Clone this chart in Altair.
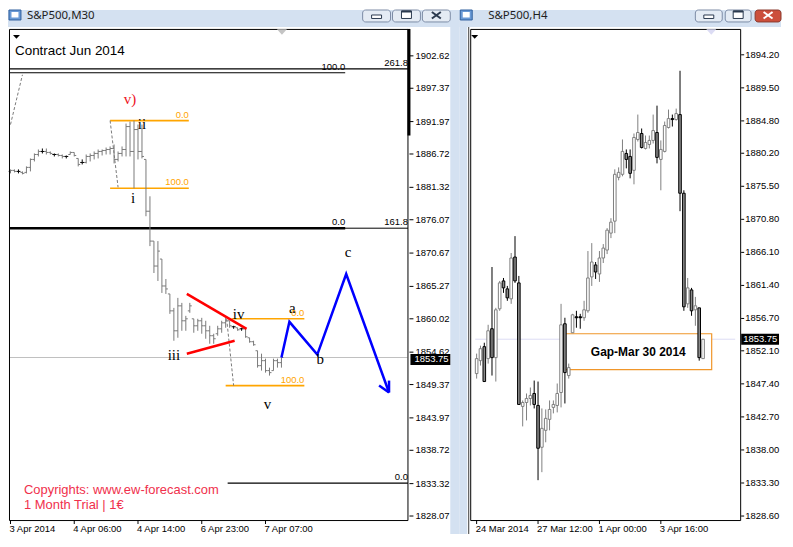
import altair as alt
import pandas as pd

# ------------------------------------------------------------------ data
# S&P500 M30 bars (left window)
m30_open = [1883.90, 1884.06, 1883.90, 1883.74, 1883.74, 1884.55, 1885.84, 1886.64, 1887.13, 1887.13,
            1886.97, 1886.64, 1886.64, 1886.48, 1886.32, 1886.64, 1886.97, 1886.00, 1885.35, 1885.35,
            1886.32, 1886.48, 1886.81, 1887.13, 1887.29, 1887.45, 1887.61, 1885.84, 1886.81, 1887.45,
            1891.16, 1887.13, 1890.68, 1887.13, 1885.84, 1877.45, 1872.61, 1868.57, 1869.70, 1865.34,
            1864.05, 1861.31, 1858.08, 1862.12, 1859.70, 1861.31, 1860.02, 1858.89, 1859.70, 1858.89,
            1858.08, 1857.28, 1857.60, 1858.40, 1859.37, 1859.70, 1858.73, 1858.57, 1858.40, 1858.40,
            1856.95, 1856.31, 1854.85, 1852.43, 1853.24, 1851.63, 1851.63, 1853.24, 1852.92]
m30_high = [1884.22, 1884.22, 1884.22, 1883.90, 1884.71, 1886.00, 1886.81, 1887.45, 1887.61, 1887.61,
            1887.13, 1886.81, 1886.81, 1886.64, 1886.48, 1887.13, 1886.97, 1886.00, 1885.84, 1886.64,
            1886.81, 1887.13, 1887.45, 1887.45, 1887.77, 1887.94, 1888.26, 1887.13, 1887.94, 1891.65,
            1891.97, 1892.13, 1891.49, 1891.49, 1885.84, 1879.87, 1872.61, 1872.61, 1869.70, 1866.47,
            1864.05, 1861.79, 1863.41, 1862.60, 1860.50, 1862.60, 1860.02, 1860.02, 1860.18, 1859.70,
            1858.89, 1857.60, 1858.89, 1859.70, 1860.18, 1859.70, 1858.89, 1858.57, 1858.57, 1858.40,
            1856.95, 1856.47, 1854.85, 1854.37, 1853.56, 1852.11, 1853.56, 1853.56, 1853.75]
m30_low = [1883.58, 1883.74, 1883.58, 1883.42, 1883.58, 1883.90, 1885.51, 1886.32, 1886.81, 1886.64,
           1886.64, 1886.32, 1886.32, 1886.00, 1886.00, 1886.64, 1886.32, 1884.71, 1885.03, 1885.19,
           1885.51, 1885.84, 1886.00, 1886.48, 1886.64, 1886.64, 1885.19, 1885.51, 1886.32, 1886.32,
           1886.32, 1881.16, 1885.84, 1886.00, 1876.64, 1871.80, 1867.44, 1866.15, 1864.21, 1864.05,
           1860.82, 1856.47, 1856.95, 1858.08, 1858.08, 1860.99, 1857.76, 1858.08, 1857.60, 1856.79,
           1855.98, 1855.98, 1857.28, 1857.76, 1858.57, 1858.57, 1858.40, 1858.08, 1858.08, 1856.95,
           1856.15, 1855.66, 1852.11, 1851.63, 1851.30, 1850.82, 1851.63, 1852.11, 1852.11]
m30_close = [1884.06, 1883.90, 1883.90, 1883.58, 1884.55, 1885.84, 1886.64, 1887.13, 1887.13, 1886.97,
             1886.81, 1886.64, 1886.48, 1886.32, 1886.32, 1886.97, 1886.48, 1885.03, 1885.35, 1886.32,
             1886.48, 1886.81, 1887.13, 1887.29, 1887.45, 1887.61, 1885.84, 1886.81, 1887.45, 1891.16,
             1887.13, 1890.68, 1887.13, 1886.32, 1877.45, 1872.61, 1868.57, 1870.99, 1865.34, 1864.86,
             1861.31, 1858.08, 1862.12, 1859.70, 1860.02, 1862.12, 1858.89, 1859.70, 1858.89, 1858.08,
             1857.28, 1856.79, 1858.40, 1859.37, 1859.70, 1858.89, 1858.73, 1858.24, 1858.40, 1857.11,
             1856.31, 1855.82, 1852.43, 1853.24, 1851.63, 1851.30, 1853.24, 1852.92, 1853.75]
m30_price_ticks = [1902.62, 1897.37, 1891.97, 1886.72, 1881.32, 1876.07, 1870.67, 1865.27,
                   1860.02, 1854.62, 1849.37, 1843.97, 1838.72, 1833.32, 1828.07]
m30_time_ticks = [0, 16, 32, 48, 64]
m30_time_labels = ["3 Apr 2014", "4 Apr 06:00", "4 Apr 14:00", "6 Apr 23:00", "7 Apr 07:00"]

# S&P500 H4 candles (right window)
h4_open = [1848.86, 1850.70, 1852.69, 1850.99, 1855.24, 1851.13, 1858.07, 1862.04, 1860.91, 1859.49,
           1865.44, 1861.76, 1844.19, 1844.75, 1845.32, 1846.03, 1844.33, 1838.38, 1840.79, 1842.35,
           1844.05, 1844.33, 1846.17, 1855.95, 1848.58, 1854.67, 1856.94, 1856.94, 1856.80, 1857.79,
           1862.61, 1864.31, 1863.03, 1865.30, 1866.43, 1868.84, 1870.54, 1876.77, 1877.20, 1880.17,
           1879.75, 1877.77, 1882.16, 1883.01, 1880.88, 1881.45, 1882.02, 1883.15, 1879.32, 1880.46,
           1883.86, 1885.13, 1884.99, 1885.70, 1874.51, 1858.78, 1860.76, 1857.93, 1858.21, 1850.99]
h4_high = [1851.70, 1852.83, 1853.25, 1855.80, 1864.02, 1858.21, 1862.04, 1862.46, 1861.33, 1866.01,
           1868.41, 1862.75, 1845.04, 1846.03, 1846.88, 1847.87, 1847.73, 1843.90, 1843.76, 1845.04,
           1845.04, 1847.45, 1858.78, 1856.80, 1850.28, 1857.36, 1857.79, 1857.36, 1859.21, 1866.29,
           1867.42, 1864.73, 1866.29, 1867.28, 1869.55, 1870.96, 1877.91, 1878.19, 1882.16, 1880.74,
           1880.74, 1883.01, 1885.70, 1883.72, 1882.72, 1882.72, 1885.70, 1886.97, 1882.02, 1884.71,
           1886.41, 1885.70, 1886.55, 1891.93, 1874.93, 1862.46, 1861.05, 1859.77, 1858.21, 1853.75]
h4_low = [1848.15, 1850.00, 1847.73, 1850.28, 1848.58, 1847.73, 1857.79, 1860.34, 1859.21, 1858.78,
          1861.76, 1844.47, 1841.35, 1842.20, 1844.33, 1843.90, 1833.70, 1834.84, 1839.09, 1840.79,
          1843.20, 1843.34, 1844.05, 1844.61, 1848.15, 1854.67, 1855.38, 1855.24, 1856.37, 1857.51,
          1861.33, 1862.32, 1861.90, 1864.59, 1865.86, 1868.13, 1868.84, 1876.35, 1876.92, 1878.05,
          1876.63, 1875.78, 1881.87, 1880.88, 1880.74, 1880.88, 1881.59, 1878.76, 1874.93, 1880.32,
          1883.72, 1884.00, 1884.85, 1871.96, 1857.79, 1858.21, 1857.08, 1855.66, 1850.70, 1850.99]
h4_close = [1850.99, 1852.40, 1847.73, 1854.95, 1851.13, 1857.93, 1861.76, 1861.05, 1859.63, 1865.30,
            1862.04, 1844.47, 1844.75, 1845.32, 1845.75, 1844.47, 1838.24, 1841.07, 1842.49, 1843.76,
            1844.47, 1846.03, 1855.80, 1849.00, 1849.71, 1857.22, 1856.80, 1856.80, 1857.93, 1862.46,
            1864.73, 1863.31, 1865.30, 1866.71, 1869.26, 1870.40, 1877.20, 1877.48, 1880.46, 1879.32,
            1877.34, 1882.44, 1883.15, 1881.02, 1881.73, 1882.02, 1883.43, 1879.61, 1880.74, 1884.14,
            1885.13, 1884.99, 1885.84, 1874.51, 1858.36, 1861.05, 1857.79, 1858.50, 1851.13, 1853.75]
h4_price_ticks = [1894.20, 1889.50, 1884.80, 1880.20, 1875.50, 1870.80, 1866.10, 1861.40,
                  1856.70, 1852.10, 1847.40, 1842.70, 1838.00, 1833.30, 1828.60]
h4_time_ticks = [0, 16, 32, 48]
h4_time_labels = ["24 Mar 2014", "27 Mar 12:00", "1 Apr 00:00", "3 Apr 16:00"]

last_price = 1853.75

# Elliott wave labels (bar index, price)
wave_text = ["v)", "ii", "i", "iii", "iv", "v", "a", "b", "c"]
wave_x = [30, 33, 30.75, 41, 57.25, 64.5, 70.75, 77.75, 84.75]
wave_y = [1895.68, 1891.65, 1879.54, 1854.21, 1860.82, 1846.14, 1861.79, 1853.56, 1870.83]

# projected a-b-c path and arrow head
proj_x = [68, 70, 77, 84.25, 95]
proj_y = [1853.75, 1859.53, 1854.21, 1867.28, 1848.08]
head_x2 = [95, 92.5]
head_y2 = [1850.01, 1849.21]

# triangle (wave iv) lines
tri_x = [44.25, 44.25]
tri_x2 = [59.25, 56.25]
tri_y = [1864.05, 1854.37]
tri_y2 = [1858.40, 1856.47]

# fibonacci levels
fib_x = [-0.25, -0.25, -0.25, -0.25, 54.5, 25, 25, 55.5, 54]
fib_x2 = [99.75, 84, 84, 99.75, 99.75, 44.75, 44.75, 73.75, 73.75]
fib_y = [1900.52, 1899.88, 1874.70, 1874.70, 1833.39, 1892.13, 1881.16, 1860.02, 1849.20]
fib_text = ["261.8", "100.0", "0.0", "161.8", "0.0", "0.0", "100.0", "0.0", "100.0"]

# zigzag (dashed)
zz_x = [0, 25, 54.25]
zz_x2 = [3, 27, 56]
zz_y = [1891.49, 1892.13, 1860.02]
zz_y2 = [1899.55, 1881.32, 1849.20]

# gap box on H4
gap_x, gap_x2 = [23], [61.25]
gap_y, gap_y2 = [1854.53], [1849.43]
gap_text = "Gap-Mar 30 2014"

# ------------------------------------------------------------------ styles / helpers
FRAME = "#d4e1f1"
FONT = "Liberation Sans"
H = 493
W1, W2 = 400, 271
ONE = pd.DataFrame({"k": [0]})

xs1 = alt.Scale(domain=[-0.375, 99.625], nice=False, zero=False)
ys1 = alt.Scale(domain=[1827.42, 1906.98], nice=False, zero=False)
xs2 = alt.Scale(domain=[-0.375, 67.375], nice=False, zero=False)
ys2 = alt.Scale(domain=[1828.03, 1897.88], nice=False, zero=False)


def prect(x, x2, y, y2, fill, stroke=None, sw=1.0, cr=0, fo=1.0):
    kw = dict(fill=fill, fillOpacity=fo, cornerRadius=cr)
    if stroke is not None:
        kw.update(stroke=stroke, strokeWidth=sw)
    else:
        kw.update(strokeWidth=0)
    return alt.Chart(ONE).mark_rect(**kw).encode(
        x=alt.value(x), x2=alt.value(x2), y=alt.value(y), y2=alt.value(y2))


def prule(x, x2, y, y2, color, sw=1.0):
    return alt.Chart(ONE).mark_rule(color=color, strokeWidth=sw).encode(
        x=alt.value(x), x2=alt.value(x2), y=alt.value(y), y2=alt.value(y2))


def ptext(x, y, text, **kw):
    return alt.Chart(ONE).mark_text(text=text, **kw).encode(x=alt.value(x), y=alt.value(y))


def ptri(x, y, color, w):
    return alt.Chart(ONE).mark_point(shape="M-1,-0.55L1,-0.55L0,0.55Z", filled=True, fill=color,
                                     strokeWidth=0, size=w * w, opacity=1).encode(
        x=alt.value(x), y=alt.value(y))


def price_axis(ticks, ys, w, t0, t1, lx):
    """right-hand price scale: ticks + labels placed through the y scale"""
    d = pd.DataFrame({"v": ticks, "t": [f"{v:.2f}" for v in ticks]})
    return [
        alt.Chart(d).mark_rule(color="black", strokeWidth=1).encode(
            x=alt.value(w + t0), x2=alt.value(w + t1), y=alt.Y("v:Q", scale=ys, axis=None)),
        alt.Chart(d).mark_text(align="left", baseline="middle", font=FONT, fontSize=9.5,
                               color="black").encode(
            x=alt.value(w + lx), y=alt.Y("v:Q", scale=ys, axis=None), text="t:N"),
    ]


def time_axis(ticks, labels, xs):
    d = pd.DataFrame({"v": ticks, "t": labels})
    return [
        alt.Chart(d).mark_rule(color="black", strokeWidth=1).encode(
            x=alt.X("v:Q", scale=xs, axis=None), y=alt.value(H), y2=alt.value(H + 4)),
        alt.Chart(d).mark_text(align="left", baseline="top", font=FONT, fontSize=9.5,
                               color="black", dx=-1).encode(
            x=alt.X("v:Q", scale=xs, axis=None), y=alt.value(H + 4), text="t:N"),
    ]


def chrome(left, right, title, tx, btns, close_red):
    layers = [prect(left, right, -19, -2, FRAME)]
    layers.append(prect(left + 1, left + 13, -19, -9, "#6a9ad6", stroke="#2f5f9e"))
    layers.append(prect(left + 3.5, left + 10.5, -17, -11.5, "#ffffff"))
    layers.append(ptext(tx, -12.5, title, align="left", baseline="middle", font="Noto Sans",
                        fontSize=11.5, color="#1e1e1e"))
    for j, (b0, b1) in enumerate(btns):
        red = close_red and j == 2
        layers.append(prect(b0, b1, -19, -7, "#cc4f3c" if red else "#e4ebf4",
                            stroke="#8b3a2e" if red else "#7c8ca6", cr=3))
    c = (btns[0][0] + btns[0][1]) / 2
    layers.append(prect(c - 5, c + 5, -14, -10.5, "#ffffff", stroke="#2b3a4f"))
    c = (btns[1][0] + btns[1][1]) / 2
    layers.append(prect(c - 5, c + 5, -18, -10.5, "#ffffff", stroke="#2b3a4f"))
    layers.append(prule(c - 5, c + 5, -17.5, -17.5, "#2b3a4f", 2))
    c = (btns[2][0] + btns[2][1]) / 2
    xc = "#ffffff" if close_red else "#2b3a4f"
    layers.append(prule(c - 4.5, c + 4.5, -17, -10.5, xc, 2))
    layers.append(prule(c - 4.5, c + 4.5, -10.5, -17, xc, 2))
    return layers


# ------------------------------------------------------------------ left window (M30)
bars = pd.DataFrame({"i": range(len(m30_open)), "o": m30_open, "h": m30_high,
                     "l": m30_low, "c": m30_close})
bars["col"] = ["#000000" if abs(o - c) < 0.1 else "#7a7a7a" for o, c in zip(bars.o, bars.c)]

fib = pd.DataFrame({"x": fib_x, "x2": fib_x2, "y": fib_y, "t": fib_text,
                    "col": ["#000000"] * 5 + ["#ffa500"] * 4,
                    "w": [1.2, 1.2, 2.6, 1.0, 1.2, 1.6, 1.6, 1.6, 1.6]})
zz = pd.DataFrame({"x": zz_x, "x2": zz_x2, "y": zz_y, "y2": zz_y2})
tri = pd.DataFrame({"x": tri_x, "x2": tri_x2, "y": tri_y, "y2": tri_y2})
proj = pd.DataFrame({"x": proj_x, "y": proj_y, "n": range(len(proj_x))})
head = pd.DataFrame({"x": [proj_x[-1]] * 2, "y": [proj_y[-1]] * 2, "x2": head_x2, "y2": head_y2})
waves = pd.DataFrame({"x": wave_x, "y": wave_y, "t": wave_text,
                      "col": ["#ee1122"] + ["#000000"] * 8})
lastp = pd.DataFrame({"p": [last_price], "x": [-0.375], "x2": [99.625], "t": [f"{last_price:.2f}"]})

X1 = lambda f: alt.X(f, scale=xs1, axis=None)
Y1 = lambda f: alt.Y(f, scale=ys1, axis=None)

L = []
L.append(prect(443, 452, -19, 507, FRAME))
L += price_axis(m30_price_ticks, ys1, W1, 2, 6, 8)
L += time_axis(m30_time_ticks, m30_time_labels, xs1)
L.append(alt.Chart(lastp).mark_rule(color="#c0c0c0", strokeWidth=1).encode(
    x=X1("x:Q"), x2="x2:Q", y=Y1("p:Q")))
L.append(alt.Chart(fib).mark_rule().encode(
    x=X1("x:Q"), x2="x2:Q", y=Y1("y:Q"),
    color=alt.Color("col:N", scale=None), strokeWidth=alt.StrokeWidth("w:Q", scale=None)))
L.append(alt.Chart(zz).mark_rule(color="#7a7a7a", strokeWidth=1, strokeDash=[3, 2]).encode(
    x=X1("x:Q"), x2="x2:Q", y=Y1("y:Q"), y2="y2:Q"))
# OHLC bars
L.append(alt.Chart(bars).mark_rule(strokeWidth=1).encode(
    x=X1("i:Q"), y=Y1("l:Q"), y2="h:Q", color=alt.Color("col:N", scale=None)))
L.append(alt.Chart(bars).mark_rule(strokeWidth=1, x2Offset=-2).encode(
    x=X1("i:Q"), x2="i:Q", y=Y1("o:Q"), color=alt.Color("col:N", scale=None)))
L.append(alt.Chart(bars).mark_rule(strokeWidth=1, x2Offset=2).encode(
    x=X1("i:Q"), x2="i:Q", y=Y1("c:Q"), color=alt.Color("col:N", scale=None)))
# triangle and projection
L.append(alt.Chart(tri).mark_rule(color="#ff0000", strokeWidth=2.5).encode(
    x=X1("x:Q"), x2="x2:Q", y=Y1("y:Q"), y2="y2:Q"))
L.append(alt.Chart(proj).mark_line(color="#0000ff", strokeWidth=2.5).encode(
    x=X1("x:Q"), y=Y1("y:Q"), order="n:Q"))
L.append(alt.Chart(head).mark_rule(color="#0000ff", strokeWidth=2.5).encode(
    x=X1("x:Q"), x2="x2:Q", y=Y1("y:Q"), y2="y2:Q"))
# labels
L.append(alt.Chart(waves).mark_text(font="Liberation Serif", fontSize=15, baseline="middle").encode(
    x=X1("x:Q"), y=Y1("y:Q"), text="t:N", color=alt.Color("col:N", scale=None)))
L.append(alt.Chart(fib).mark_text(font=FONT, fontSize=9.5, align="right", baseline="bottom", dy=-1).encode(
    x=X1("x2:Q"), y=Y1("y:Q"), text="t:N", color=alt.Color("col:N", scale=None)))
L.append(ptext(6, 22, "Contract Jun 2014", align="left", baseline="middle", font=FONT,
               fontSize=13.5, color="black"))
L.append(ptext(15, 463, "Copyrights: www.ew-forecast.com", align="left", baseline="middle",
               font=FONT, fontSize=13, color="#f0304c"))
L.append(ptext(15, 478, "1 Month Trial | 1€", align="left", baseline="middle",
               font=FONT, fontSize=13, color="#f0304c"))
# frame of the plot, price marker
L.append(prect(0.5, W1 + 0.5, 0.5, H + 0.5, "#ffffff", stroke="#000000", sw=1, fo=0))
L.append(prule(401.5, 401.5, 0, 107, "#000000", 3))
L.append(alt.Chart(lastp).mark_rule(color="black", strokeWidth=11).encode(
    x=alt.value(403), x2=alt.value(443), y=Y1("p:Q"), yOffset=alt.value(2)))
L.append(alt.Chart(lastp).mark_text(align="left", baseline="middle", color="white",
                                    font=FONT, fontSize=9.5).encode(
    x=alt.value(407), y=Y1("p:Q"), yOffset=alt.value(2), text="t:N"))
L.append(ptri(7.5, 8, "#000000", 7))
L.append(ptri(274, 3, "#c4c4c4", 10))
L += chrome(-1, 452, "S&P500,M30", 18, [(355, 383), (385, 413), (415, 443)], False)

left = alt.layer(*L).properties(width=W1, height=H)

# ------------------------------------------------------------------ right window (H4)
cs = pd.DataFrame({"i": range(len(h4_open)), "o": h4_open, "h": h4_high,
                   "l": h4_low, "c": h4_close})
kind = ["doji" if abs(o - c) < 0.2 else ("bull" if c > o else "bear") for o, c in zip(cs.o, cs.c)]
cs["wick"] = ["#7f7f7f" if k == "bull" else "#000000" for k in kind]
cs["fill"] = ["#ffffff" if k == "bull" else ("#8a8a8a" if k == "bear" else "#000000") for k in kind]
cs["stroke"] = ["#7f7f7f" if k == "bull" else "#000000" for k in kind]
gap = pd.DataFrame({"x": gap_x, "x2": gap_x2, "y": gap_y, "y2": gap_y2, "t": [gap_text],
                    "xm": [(gap_x[0] + gap_x2[0]) / 2], "ym": [(gap_y[0] + gap_y2[0]) / 2]})
lastp2 = pd.DataFrame({"p": [last_price], "x": [-0.375], "x2": [67.375], "t": [f"{last_price:.2f}"]})

X2 = lambda f: alt.X(f, scale=xs2, axis=None)
Y2 = lambda f: alt.Y(f, scale=ys2, axis=None)

R = []
R.append(prect(-11, -3, -19, 507, FRAME))
R.append(prule(-1.5, -1.5, -2, 507, "#3a3a3a", 1))
R += price_axis(h4_price_ticks, ys2, W2, 1, 4, 5)
R += time_axis(h4_time_ticks, h4_time_labels, xs2)
R.append(alt.Chart(lastp2).mark_rule(color="#dcdcf4", strokeWidth=1).encode(
    x=X2("x:Q"), x2="x2:Q", y=Y2("p:Q")))
R.append(alt.Chart(gap).mark_rect(fill="white", stroke="#f0962a", strokeWidth=1.2).encode(
    x=X2("x:Q"), x2="x2:Q", y=Y2("y:Q"), y2="y2:Q"))
R.append(alt.Chart(cs).mark_rule(strokeWidth=1).encode(
    x=X2("i:Q"), y=Y2("l:Q"), y2="h:Q", color=alt.Color("wick:N", scale=None)))
R.append(alt.Chart(cs).mark_bar(size=2.6, strokeWidth=1).encode(
    x=X2("i:Q"), y=Y2("o:Q"), y2="c:Q",
    fill=alt.Fill("fill:N", scale=None), stroke=alt.Stroke("stroke:N", scale=None)))
R.append(alt.Chart(gap).mark_text(font=FONT, fontSize=12, fontWeight="bold", color="black",
                                  baseline="middle").encode(
    x=X2("xm:Q"), y=Y2("ym:Q"), text="t:N"))
R.append(prect(0.5, W2 + 0.5, 0.5, H + 0.5, "#ffffff", stroke="#000000", sw=1, fo=0))
R.append(alt.Chart(lastp2).mark_rule(color="black", strokeWidth=11).encode(
    x=alt.value(272), x2=alt.value(310), y=Y2("p:Q")))
R.append(alt.Chart(lastp2).mark_text(align="left", baseline="middle", color="white",
                                     font=FONT, fontSize=9.5).encode(
    x=alt.value(274), y=Y2("p:Q"), text="t:N"))
R.append(ptri(4.5, 8, "#000000", 7))
R.append(ptri(242, 3, "#dcdcf4", 10))
R += chrome(-11, 312, "S&P500,H4", 18, [(226, 253), (256, 282), (286, 312)], True)

right = alt.layer(*R).properties(width=W2, height=H)

chart = alt.hconcat(left, right, spacing=0).properties(padding=0).configure(
    background="white", font=FONT).configure_view(strokeWidth=0)

chart.save("out.html", embed_options={"renderer": "svg", "actions": False})
